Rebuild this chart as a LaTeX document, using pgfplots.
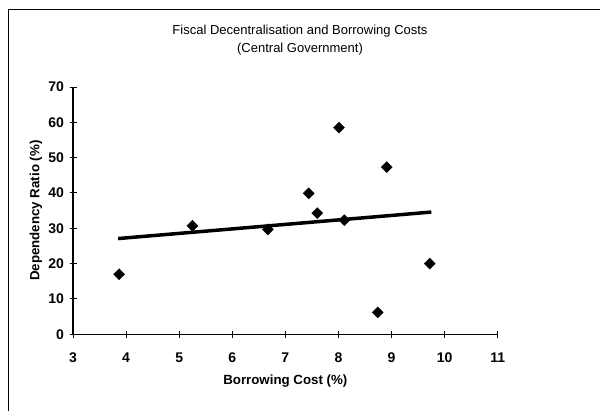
\documentclass[border=0pt]{standalone}
\usepackage{fontspec}
\setmainfont{Liberation Sans}
\usepackage{pgfplots}
\pgfplotsset{compat=1.18}

\begin{document}
\begin{tikzpicture}[x=1pt,y=1pt]
\useasboundingbox (0,0) rectangle (600,411);
% chart area frame (only left and top edges are inside the crop)
\draw[line width=1pt] (8,0) -- (8,401) -- (600,401);
\node[align=center, font=\fontsize{13}{18}\selectfont] at (300,370.5)
  {Fiscal Decentralisation and Borrowing Costs\\(Central Government)};
\begin{axis}[
    at={(73pt,76.7pt)}, anchor=south west,
    scale only axis, width=424.7pt, height=247.3pt,
    xmin=3, xmax=11, ymin=0, ymax=70,
    xtick={3,4,...,11}, ytick={0,10,...,70},
    axis lines=left, axis line style={line width=1.2pt, -},
    tick align=center, major tick length=7pt,
    tick style={line width=1pt, black},
    ticklabel style={font=\bfseries\fontsize{14}{16}\selectfont},
    xticklabel style={anchor=center, yshift=-20pt},
    yticklabel style={xshift=-2pt},
    /pgf/number format/assume math mode=true,
    xlabel={\bfseries Borrowing Cost (\%)},
    ylabel={\bfseries Dependency Ratio (\%)},
    label style={font=\fontsize{13.3}{15}\selectfont},
    xlabel style={at={(axis description cs:0.5,0)}, anchor=center, yshift=-46.7pt},
    ylabel style={at={(axis description cs:0,0.5)}, anchor=center, yshift=37pt},
    clip=false,
]
% observations
\addplot[only marks, mark=square*, mark size=3.9pt, mark options={rotate=45}, black] coordinates {
    (3.87,17.0) (5.25,30.7) (6.67,29.7) (7.44,39.9) (7.60,34.3)
    (8.11,32.3) (8.91,47.3) (9.72,20.0) (8.01,58.5) (8.74,6.2)
};
% linear trend
\addplot[black, line width=3.5pt] coordinates {
    (3.85,27.1) (9.75,34.6)
};
\end{axis}
\end{tikzpicture}
\end{document}
